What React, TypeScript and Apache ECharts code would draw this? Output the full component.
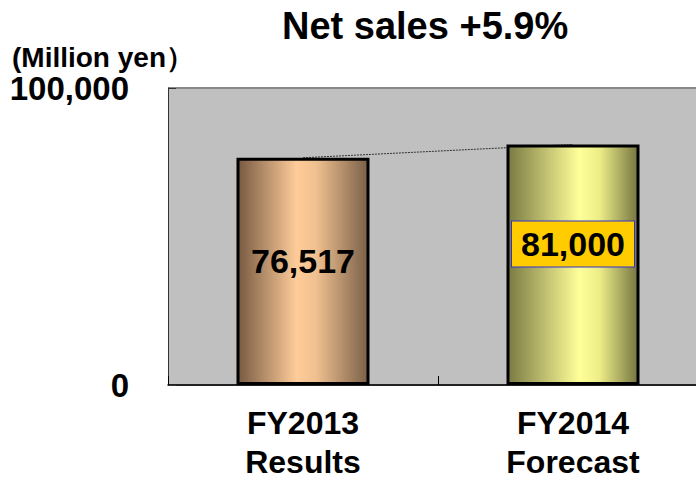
import React, { useEffect, useRef } from "react";
import * as echarts from "echarts";

const categories = ["FY2013\nResults", "FY2014\nForecast"];
const netSales = [76517, 81000];
const yTicks = [0, 100000];
const titleText = "Net sales +5.9%";
const unitText = "(Million yen\uff09";

const FONT = "'Liberation Sans', Arial, Helvetica, sans-serif";

export default function App() {
  const ref = useRef<HTMLDivElement>(null);
  useEffect(() => {
    document.body.style.margin = "0";
    const chart = echarts.init(ref.current!, null, { renderer: "svg" });
    const fmt = (v: number) => v.toLocaleString("en-US");
    const gradients = [
      new echarts.graphic.LinearGradient(0, 0, 1, 0, [
        { offset: 0, color: "#775a42" },
        { offset: 0.45, color: "#ffcc99" },
        { offset: 0.6, color: "#f0c090" },
        { offset: 1, color: "#7a6048" },
      ]),
      new echarts.graphic.LinearGradient(0, 0, 1, 0, [
        { offset: 0, color: "#7a7a44" },
        { offset: 0.55, color: "#ffff99" },
        { offset: 0.7, color: "#eeee88" },
        { offset: 1, color: "#757542" },
      ]),
    ];
    chart.setOption({
      animation: false,
      backgroundColor: "#ffffff",
      textStyle: { fontFamily: FONT },
      graphic: [
        {
          type: "text",
          left: 282,
          top: 7,
          style: { text: titleText, font: `bold 38px ${FONT}`, fill: "#000" },
        },
        {
          type: "text",
          left: 12,
          top: 43,
          style: { text: unitText, font: `bold 28px ${FONT}`, fill: "#000" },
        },
      ],
      grid: { left: 168, top: 88, width: 540, height: 297, show: true, backgroundColor: "#c0c0c0", borderWidth: 0 },
      xAxis: {
        type: "category",
        data: categories,
        boundaryGap: true,
        axisLine: { show: true, lineStyle: { color: "#000", width: 1.5 } },
        axisTick: { show: true, inside: true, length: 9, lineStyle: { color: "#000" } },
        axisLabel: {
          fontSize: 32,
          fontWeight: "bold",
          color: "#000",
          lineHeight: 39,
          margin: 18,
          fontFamily: FONT,
        },
      },
      yAxis: {
        type: "value",
        min: yTicks[0],
        max: yTicks[yTicks.length - 1],
        interval: yTicks[1] - yTicks[0],
        axisLine: { show: true, lineStyle: { color: "#333", width: 1 } },
        axisTick: { show: true, inside: true, length: 8, lineStyle: { color: "#333" } },
        splitLine: { show: true, lineStyle: { color: "#888", width: 2 } },
        axisLabel: {
          fontSize: 33,
          fontWeight: "bold",
          color: "#000",
          margin: 39,
          fontFamily: FONT,
          formatter: (v: number) => fmt(v),
        },
      },
      series: [
        {
          type: "line",
          data: netSales,
          z: 1,
          symbol: "none",
          silent: true,
          lineStyle: { color: "#333", width: 1, type: [2, 1] },
        },
        {
          type: "bar",
          z: 3,
          barWidth: 133,
          data: netSales.map((v, i) => ({
            value: v,
            itemStyle: { color: gradients[i], borderColor: "#000", borderWidth: 3 },
            label:
              i === 0
                ? {
                    show: true,
                    position: "insideTop",
                    distance: 86,
                    formatter: () => fmt(v),
                    fontSize: 34,
                    fontWeight: "bold",
                    color: "#000",
                    fontFamily: FONT,
                  }
                : {
                    show: true,
                    position: "insideTop",
                    distance: 77,
                    formatter: () => fmt(v),
                    fontSize: 34,
                    fontWeight: "bold",
                    color: "#000",
                    fontFamily: FONT,
                    backgroundColor: "#ffcc00",
                    borderColor: "#3333cc",
                    borderWidth: 1,
                    padding: [6, 9, 5, 9],
                  },
          })),
        },
      ],
    });
    return () => chart.dispose();
  }, []);
  return (
    <div style={{ width: 696, height: 482, overflow: "hidden", position: "relative" }}>
      <div ref={ref} style={{ width: 708, height: 482 }} />
    </div>
  );
}
